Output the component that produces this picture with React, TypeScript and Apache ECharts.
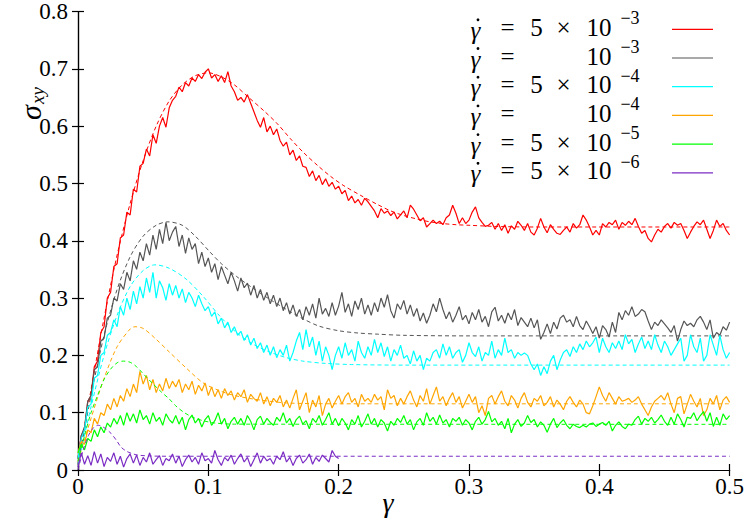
import React, { useEffect, useRef } from "react";
import * as echarts from "echarts";

// strain grid step for the simulation curves
const STEP = 0.0025;

const xTicks = [0, 0.1, 0.2, 0.3, 0.4, 0.5];
const yTicks = [0, 0.1, 0.2, 0.3, 0.4, 0.5, 0.6, 0.7, 0.8];

const rateLabels = [
  { pre: "5", exp: "−3" },
  { pre: "", exp: "−3" },
  { pre: "5", exp: "−4" },
  { pre: "", exp: "−4" },
  { pre: "5", exp: "−5" },
  { pre: "5", exp: "−6" },
];
const colors = ["#ff0000", "#555555", "#00ffff", "#ffa500", "#00ff00", "#7b2cc4"];

// simulation values (sigma_xy) at gamma = i * STEP
const red = [
  0.02, 0.06, 0.07, 0.12, 0.13, 0.18, 0.19, 0.24, 0.25, 0.30,
  0.31, 0.355, 0.36, 0.405, 0.41, 0.45, 0.445, 0.49, 0.485, 0.53,
  0.535, 0.56, 0.548, 0.585, 0.57, 0.6, 0.615, 0.598, 0.632, 0.645,
  0.652, 0.668, 0.66, 0.676, 0.67, 0.684, 0.678, 0.69, 0.683, 0.694,
  0.70, 0.684, 0.69, 0.678, 0.688, 0.676, 0.695, 0.67, 0.66, 0.645,
  0.65, 0.642, 0.655, 0.64, 0.625, 0.61, 0.598, 0.615, 0.59, 0.6,
  0.585, 0.595, 0.575, 0.565, 0.572, 0.55, 0.558, 0.54, 0.548, 0.53,
  0.528, 0.512, 0.522, 0.505, 0.514, 0.498, 0.508, 0.495, 0.502, 0.49,
  0.495, 0.482, 0.488, 0.47, 0.478, 0.466, 0.472, 0.462, 0.474, 0.468,
  0.46, 0.452, 0.44, 0.456, 0.448, 0.452, 0.444, 0.45, 0.438, 0.445,
  0.452, 0.44, 0.462, 0.455, 0.445, 0.435, 0.44, 0.424, 0.43, 0.436,
  0.43, 0.434, 0.428, 0.44, 0.445, 0.462, 0.448, 0.43, 0.44, 0.43,
  0.436, 0.45, 0.459, 0.44, 0.432, 0.425, 0.427, 0.432, 0.42, 0.43,
  0.418, 0.428, 0.413, 0.426, 0.42, 0.434, 0.427, 0.418, 0.43, 0.415,
  0.41, 0.422, 0.439, 0.424, 0.414, 0.428, 0.42, 0.413, 0.411, 0.418,
  0.424, 0.415, 0.43, 0.422, 0.428, 0.445, 0.436, 0.424, 0.41, 0.418,
  0.41, 0.43, 0.424, 0.432, 0.428, 0.436, 0.42, 0.432, 0.427, 0.434,
  0.428, 0.439, 0.425, 0.413, 0.418, 0.404, 0.398, 0.41, 0.42, 0.415,
  0.425, 0.43, 0.422, 0.432, 0.427, 0.43, 0.418, 0.404, 0.415, 0.425,
  0.433, 0.428, 0.436, 0.42, 0.404, 0.418, 0.436, 0.425, 0.43, 0.418,
  0.41,
];
const gray = [
  0.02, 0.06, 0.075, 0.12, 0.13, 0.175, 0.18, 0.225, 0.23, 0.265,
  0.27, 0.3, 0.295, 0.325, 0.315, 0.345, 0.33, 0.365, 0.35, 0.38,
  0.365, 0.395, 0.375, 0.41, 0.385, 0.42, 0.395, 0.432, 0.4, 0.415,
  0.425, 0.39, 0.41, 0.378, 0.405, 0.385, 0.395, 0.36, 0.38, 0.355,
  0.37, 0.345, 0.36, 0.332, 0.355, 0.34, 0.325, 0.345, 0.33, 0.312,
  0.335, 0.318, 0.326, 0.305, 0.322, 0.3, 0.315, 0.296, 0.31, 0.29,
  0.305, 0.285, 0.3, 0.278, 0.292, 0.272, 0.288, 0.268, 0.28, 0.262,
  0.285, 0.27, 0.29, 0.265, 0.3, 0.272, 0.282, 0.268, 0.292, 0.27,
  0.286, 0.31, 0.275, 0.29, 0.268, 0.295, 0.28, 0.3, 0.272, 0.288,
  0.27, 0.292, 0.276, 0.3, 0.284, 0.306, 0.278, 0.265, 0.29, 0.28,
  0.296, 0.272, 0.288, 0.268, 0.282, 0.26, 0.274, 0.256, 0.27, 0.29,
  0.276, 0.3, 0.28, 0.264, 0.276, 0.258, 0.27, 0.285, 0.262, 0.27,
  0.255, 0.275, 0.262, 0.28, 0.258, 0.268, 0.25, 0.276, 0.284, 0.26,
  0.27, 0.256, 0.274, 0.262, 0.28, 0.252, 0.266, 0.258, 0.25, 0.265,
  0.248, 0.262, 0.228, 0.24, 0.255, 0.238, 0.258, 0.246, 0.265, 0.27,
  0.258, 0.262, 0.25, 0.268, 0.252, 0.245, 0.26, 0.25, 0.238, 0.25,
  0.23, 0.252, 0.245, 0.232, 0.258, 0.24, 0.275, 0.262, 0.278, 0.27,
  0.285, 0.268, 0.272, 0.28, 0.276, 0.26, 0.245, 0.258, 0.252, 0.262,
  0.255, 0.248, 0.24, 0.252, 0.225, 0.245, 0.26, 0.252, 0.256, 0.25,
  0.262, 0.268, 0.258, 0.245, 0.262, 0.23, 0.24, 0.235, 0.25, 0.244,
  0.258,
];
const cyan = [
  0.02, 0.055, 0.07, 0.11, 0.115, 0.16, 0.165, 0.2, 0.205, 0.235,
  0.24, 0.262, 0.25, 0.285, 0.27, 0.3, 0.28, 0.312, 0.29, 0.32,
  0.3, 0.335, 0.31, 0.345, 0.3, 0.33, 0.318, 0.296, 0.325, 0.305,
  0.322, 0.3, 0.316, 0.292, 0.31, 0.3, 0.285, 0.305, 0.29, 0.278,
  0.285, 0.268, 0.276, 0.255, 0.265, 0.248, 0.258, 0.24, 0.25, 0.235,
  0.242, 0.226, 0.236, 0.218, 0.23, 0.212, 0.222, 0.205, 0.218, 0.2,
  0.215, 0.196, 0.21, 0.2, 0.218, 0.19, 0.205, 0.225, 0.24, 0.21,
  0.245, 0.215, 0.232, 0.2, 0.225, 0.19, 0.215, 0.2, 0.175, 0.2,
  0.215, 0.195, 0.222, 0.2, 0.21, 0.19, 0.225, 0.205, 0.195, 0.215,
  0.2, 0.228, 0.205, 0.222, 0.198, 0.215, 0.19, 0.21, 0.2, 0.218,
  0.195, 0.2, 0.185, 0.208, 0.19, 0.2, 0.175, 0.195, 0.19, 0.205,
  0.21, 0.195, 0.22, 0.2, 0.215, 0.195, 0.205, 0.21, 0.188, 0.2,
  0.222, 0.205, 0.198, 0.215, 0.19, 0.205, 0.2, 0.225, 0.195, 0.21,
  0.2, 0.23, 0.205, 0.21, 0.195, 0.205, 0.2, 0.204, 0.2, 0.185,
  0.175, 0.185, 0.165, 0.18, 0.168, 0.19, 0.2, 0.175, 0.192, 0.205,
  0.21, 0.198, 0.215, 0.205, 0.22, 0.21, 0.225, 0.215, 0.222, 0.232,
  0.205, 0.23, 0.215, 0.205, 0.222, 0.212, 0.225, 0.21, 0.236, 0.22,
  0.228, 0.205, 0.22, 0.232, 0.212, 0.225, 0.21, 0.236, 0.218, 0.205,
  0.225, 0.215, 0.2, 0.21, 0.22, 0.23, 0.19, 0.2, 0.236, 0.215,
  0.205, 0.23, 0.19, 0.2, 0.236, 0.218, 0.2, 0.235, 0.21, 0.195,
  0.205,
];
const orange = [
  0.03, 0.05, 0.045, 0.07, 0.065, 0.09, 0.08, 0.1, 0.095, 0.115,
  0.105, 0.125, 0.11, 0.13, 0.12, 0.142, 0.128, 0.15, 0.135, 0.172,
  0.15, 0.165, 0.14, 0.158, 0.135, 0.15, 0.138, 0.16, 0.142, 0.155,
  0.145, 0.158, 0.135, 0.15, 0.14, 0.155, 0.132, 0.148, 0.138, 0.152,
  0.13, 0.145, 0.128, 0.14, 0.125, 0.142, 0.13, 0.138, 0.122, 0.135,
  0.128, 0.14, 0.118, 0.132, 0.125, 0.12, 0.135, 0.115, 0.128, 0.112,
  0.125, 0.118, 0.13, 0.11, 0.122, 0.108, 0.125, 0.14, 0.105, 0.12,
  0.135, 0.1, 0.122, 0.11, 0.13, 0.095, 0.115, 0.125, 0.108, 0.12,
  0.13, 0.115, 0.128, 0.135, 0.118, 0.125, 0.11, 0.132, 0.12, 0.125,
  0.118, 0.132, 0.122, 0.128, 0.105, 0.14, 0.125, 0.13, 0.112, 0.125,
  0.115, 0.128, 0.138, 0.122, 0.11, 0.13, 0.12, 0.142, 0.115, 0.13,
  0.145, 0.12, 0.128, 0.112, 0.125, 0.135, 0.118, 0.128, 0.108, 0.12,
  0.132, 0.118, 0.128, 0.1, 0.112, 0.095, 0.125, 0.13, 0.115, 0.128,
  0.138, 0.12, 0.112, 0.13, 0.122, 0.108, 0.125, 0.135, 0.118, 0.11,
  0.125, 0.12, 0.13, 0.112, 0.118, 0.128, 0.11, 0.122, 0.115, 0.105,
  0.12, 0.128, 0.118, 0.11, 0.122, 0.115, 0.1, 0.098, 0.112, 0.128,
  0.145, 0.13, 0.12, 0.135, 0.125, 0.115, 0.128, 0.12, 0.122, 0.125,
  0.118, 0.122, 0.128, 0.115, 0.105, 0.095, 0.11, 0.12, 0.125, 0.13,
  0.122, 0.135, 0.115, 0.1, 0.125, 0.128, 0.098, 0.115, 0.132, 0.12,
  0.11, 0.125, 0.095, 0.105, 0.125, 0.115, 0.13, 0.105, 0.122, 0.128,
  0.118,
];
const green = [
  0.03, 0.045, 0.035, 0.055, 0.05, 0.07, 0.058, 0.075, 0.065, 0.082,
  0.075, 0.09, 0.08, 0.095, 0.078, 0.1, 0.085, 0.098, 0.082, 0.105,
  0.088, 0.095, 0.08, 0.1, 0.085, 0.092, 0.078, 0.098, 0.088, 0.082,
  0.095, 0.08, 0.092, 0.07, 0.088, 0.096, 0.082, 0.09, 0.075, 0.088,
  0.095, 0.078, 0.086, 0.1, 0.08, 0.09, 0.072, 0.085, 0.092, 0.08,
  0.09, 0.078, 0.095, 0.085, 0.07, 0.088, 0.094, 0.08, 0.09, 0.083,
  0.078, 0.092, 0.085, 0.1, 0.082, 0.09, 0.076, 0.088, 0.094, 0.08,
  0.086, 0.072, 0.09, 0.083, 0.095, 0.078, 0.088, 0.1, 0.08, 0.09,
  0.077, 0.09, 0.082, 0.07, 0.088, 0.08, 0.095, 0.075, 0.085, 0.098,
  0.08, 0.09, 0.075, 0.088, 0.082, 0.068, 0.085, 0.078, 0.09, 0.083,
  0.095, 0.08, 0.088, 0.07, 0.084, 0.09, 0.078, 0.1, 0.085, 0.092,
  0.08, 0.096, 0.082, 0.088, 0.075, 0.09, 0.085, 0.092, 0.078, 0.088,
  0.082, 0.07, 0.085, 0.092, 0.08, 0.088, 0.102, 0.084, 0.09, 0.078,
  0.085, 0.072, 0.09, 0.065, 0.08, 0.088, 0.076, 0.082, 0.095, 0.083,
  0.088, 0.075, 0.084, 0.078, 0.066, 0.08, 0.09, 0.074, 0.082, 0.088,
  0.078, 0.072, 0.08, 0.076, 0.074, 0.078, 0.075, 0.08, 0.082, 0.076,
  0.08, 0.083, 0.078, 0.085, 0.068, 0.078, 0.084, 0.076, 0.072, 0.08,
  0.078, 0.088, 0.094, 0.08, 0.09, 0.085, 0.092, 0.082, 0.088, 0.096,
  0.085, 0.078, 0.092, 0.08, 0.098, 0.088, 0.075, 0.092, 0.09, 0.1,
  0.086, 0.095, 0.102, 0.085, 0.1, 0.076, 0.092, 0.078, 0.098, 0.088,
  0.095,
];
const purple = [
  0.005, 0.03, 0.01, 0.025, 0.008, 0.032, 0.012, 0.028, 0.006, 0.022,
  0.015, 0.03, 0.01, 0.024, 0.005, 0.02, 0.028, 0.012, 0.026, 0.008,
  0.022, 0.014, 0.03, 0.01, 0.018, 0.025, 0.008, 0.02, 0.016, 0.028,
  0.012, 0.024, 0.006, 0.018, 0.026, 0.014, 0.022, 0.01, 0.03, 0.016,
  0.02, 0.012, 0.034, 0.018, 0.008, 0.022, 0.016, 0.026, 0.01, 0.02,
  0.028, 0.014, 0.022, 0.006, 0.018, 0.03, 0.012, 0.024, 0.016, 0.02,
  0.01, 0.024, 0.018, 0.032, 0.014, 0.022, 0.008, 0.02, 0.026, 0.012,
  0.018, 0.028, 0.01, 0.022, 0.015, 0.026, 0.02, 0.014, 0.034, 0.024,
  0.02,
];

// model fits [gamma, sigma]
const redFit = [[0, 0.01], [0.01, 0.14], [0.02, 0.265], [0.03, 0.375], [0.04, 0.465], [0.05, 0.54], [0.06, 0.6], [0.07, 0.644], [0.08, 0.672], [0.09, 0.688], [0.1, 0.693], [0.11, 0.686], [0.12, 0.672], [0.13, 0.652], [0.143, 0.626], [0.153, 0.604], [0.163, 0.578], [0.173, 0.554], [0.184, 0.531], [0.194, 0.512], [0.204, 0.496], [0.217, 0.479], [0.23, 0.463], [0.24, 0.452], [0.25, 0.444], [0.26, 0.438], [0.27, 0.433], [0.28, 0.43], [0.29, 0.428], [0.3, 0.427], [0.32, 0.425], [0.35, 0.424], [0.5, 0.424]];
const grayFit = [[0, 0.01], [0.01, 0.13], [0.02, 0.235], [0.03, 0.315], [0.04, 0.372], [0.05, 0.408], [0.06, 0.427], [0.069, 0.433], [0.08, 0.427], [0.09, 0.408], [0.101, 0.381], [0.11, 0.36], [0.1215, 0.338], [0.135, 0.316], [0.147, 0.298], [0.16, 0.28], [0.1725, 0.264], [0.185, 0.251], [0.2, 0.243], [0.215, 0.239], [0.23, 0.237], [0.25, 0.235], [0.3, 0.234], [0.5, 0.234]];
const cyanFit = [[0, 0.01], [0.01, 0.11], [0.02, 0.2], [0.03, 0.27], [0.04, 0.32], [0.05, 0.348], [0.059, 0.358], [0.07, 0.352], [0.083, 0.333], [0.096, 0.303], [0.109, 0.268], [0.1215, 0.24], [0.134, 0.22], [0.147, 0.206], [0.16, 0.196], [0.1725, 0.19], [0.19, 0.186], [0.21, 0.184], [0.25, 0.183], [0.5, 0.183]];
const orangeFit = [[0, 0.015], [0.01, 0.09], [0.02, 0.16], [0.03, 0.215], [0.04, 0.246], [0.0437, 0.25], [0.05, 0.247], [0.06, 0.228], [0.07, 0.206], [0.083, 0.178], [0.096, 0.152], [0.109, 0.138], [0.12, 0.13], [0.134, 0.124], [0.147, 0.12], [0.16, 0.117], [0.18, 0.1158], [0.2, 0.1155], [0.5, 0.1155]];
const greenFit = [[0, 0.015], [0.005, 0.06], [0.01, 0.1], [0.015, 0.13], [0.02, 0.158], [0.025, 0.176], [0.03, 0.187], [0.0347, 0.19], [0.04, 0.188], [0.045, 0.18], [0.05, 0.168], [0.0577, 0.15], [0.064, 0.136], [0.07, 0.124], [0.075, 0.112], [0.081, 0.101], [0.088, 0.092], [0.096, 0.086], [0.105, 0.082], [0.12, 0.08], [0.5, 0.0797]];
const purpleFit = [[0, 0.0], [0.004, 0.035], [0.008, 0.06], [0.012, 0.074], [0.0156, 0.078], [0.02, 0.074], [0.0255, 0.0635], [0.03, 0.05], [0.033, 0.04], [0.037, 0.033], [0.041, 0.029], [0.046, 0.026], [0.055, 0.0245], [0.07, 0.024], [0.5, 0.024]];

const simData = [red, gray, cyan, orange, green, purple];
const fitData = [redFit, grayFit, cyanFit, orangeFit, greenFit, purpleFit];

const FAM = "Liberation Serif";
const FONT_CSS = `svg text, svg tspan { font-family: "Liberation Serif", "Times New Roman", serif !important; }`;

export default function App() {
  const ref = useRef<HTMLDivElement>(null);
  useEffect(() => {
    document.body.style.margin = "0";
    const styleEl = document.createElement("style");
    styleEl.textContent = FONT_CSS;
    document.head.appendChild(styleEl);

    const chart = echarts.init(ref.current!, null, { renderer: "svg" });
    const series: any[] = [];
    simData.forEach((vals, k) => {
      series.push({
        type: "line",
        data: vals.map((v, i) => [+(i * STEP).toFixed(4), v]),
        showSymbol: false,
        lineStyle: { color: colors[k], width: 1.2 },
        z: 2 + k * 2,
      });
      series.push({
        type: "line",
        data: fitData[k],
        smooth: 0.3,
        showSymbol: false,
        lineStyle: { color: colors[k], width: 1, type: [4, 3] },
        z: 3 + k * 2,
      });
    });

    const txt = (x: number, y: number, text: string, size: number, italic = false, align = "center") => {
      const style: any = { text, fontFamily: FAM, fontSize: size, fill: "#000", align, verticalAlign: "middle" };
      if (italic) style.fontStyle = "italic";
      return { type: "text", x, y, style };
    };

    const legendTexts: any[] = [];
    const legendMarks: any[] = [];
    rateLabels.forEach((lab, k) => {
      const ly = 29.3 + k * 28.7;
      const ty = ly - 2;
      legendTexts.push(
        txt(475.5, ty + 3, "γ", 25, true),
        txt(507.5, ty, "=", 25),
        txt(599, ty, "10", 25),
        txt(630, ty - 9, lab.exp, 18)
      );
      if (lab.pre) legendTexts.push(txt(536.5, ty, lab.pre, 25), txt(563.5, ty, "×", 25));
      legendMarks.push(
        { type: "circle", shape: { cx: 478, cy: ly - 9.5, r: 1.4 }, style: { fill: "#000" } },
        { type: "line", shape: { x1: 672, y1: ly, x2: 713, y2: ly }, style: { stroke: colors[k], lineWidth: 1.2 } }
      );
    });

    const axisLine = { show: true, lineStyle: { color: "#000", width: 1.2 } };
    const axisTick = { inside: true, length: 6, lineStyle: { color: "#000", width: 1.2 } };

    chart.setOption({
      animation: false,
      grid: { left: 78, right: 16, top: 8, bottom: 49 },
      xAxis: [
        { type: "value", min: xTicks[0], max: xTicks[xTicks.length - 1], interval: 0.1, axisLine, axisTick,
          splitLine: { show: false },
          axisLabel: { fontFamily: FAM, fontSize: 23, color: "#000", margin: 5 } },
        { type: "value", position: "top", min: xTicks[0], max: xTicks[xTicks.length - 1], interval: 0.1, axisLine, axisTick,
          splitLine: { show: false }, axisLabel: { show: false } },
      ],
      yAxis: [
        { type: "value", min: yTicks[0], max: yTicks[yTicks.length - 1], interval: 0.1, axisLine, axisTick,
          splitLine: { show: false },
          axisLabel: { fontFamily: FAM, fontSize: 23, color: "#000", margin: 10 } },
        { type: "value", position: "right", min: yTicks[0], max: yTicks[yTicks.length - 1], interval: 0.1, axisLine, axisTick,
          splitLine: { show: false }, axisLabel: { show: false } },
      ],
      series,
      graphic: [
        { type: "group", x: 0, y: 0, children: [txt(388, 502, "γ", 28, true)] },
        {
          type: "group", x: 30, y: 120, rotation: Math.PI / 2,
          children: [
            txt(0, 0, "σ", 30, true, "left"),
            txt(16, 7, "xy", 19, true, "left"),
          ],
        },
        { type: "group", x: 0, y: 0, children: legendTexts },
        ...legendMarks,
      ],
    });
    return () => {
      chart.dispose();
      styleEl.remove();
    };
  }, []);
  return <div ref={ref} style={{ width: 747, height: 519, fontFamily: "'Liberation Serif', serif" }} />;
}
